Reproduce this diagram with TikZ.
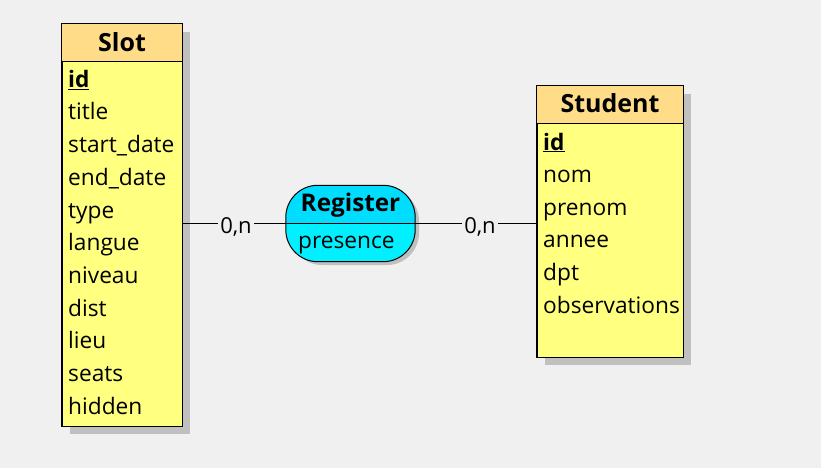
\documentclass[tikz,border=0pt]{standalone}
\usepackage{fontspec}
\setmainfont{Open Sans}
\usetikzlibrary{calc}
\definecolor{bg}{RGB}{240,240,240}
\definecolor{hdr}{RGB}{255,221,136}
\definecolor{body}{RGB}{255,255,128}
\definecolor{shd}{RGB}{192,192,192}
\definecolor{cyantop}{RGB}{0,221,255}
\definecolor{cyanbot}{RGB}{0,240,255}
\tikzset{
  box/.style={draw=black, line width=1pt, fill=body, rectangle, inner sep=0pt},
  attr/.style={anchor=base west, inner sep=0pt, font=\fontsize{22.7}{27}\selectfont},
  keyattr/.style={attr, font=\fontsize{22.7}{27}\selectfont\bfseries},
  title/.style={inner sep=0pt, anchor=base, font=\fontsize{25}{30}\selectfont\bfseries},
  card/.style={inner xsep=2pt, inner ysep=0pt, fill=bg, anchor=base, font=\fontsize{22}{26}\selectfont},
  link/.style={draw=black, line width=1pt}
}
\begin{document}
\begin{tikzpicture}[x=1pt,y=-1pt]
\fill[bg] (0,0) rectangle (821,468);
\useasboundingbox (0,0) rectangle (821,468);
% shadows
\fill[shd] (70,32) rectangle (190,434);
\fill[shd] (545,94) rectangle (691,365);
\fill[shd,rounded corners=32] (290,189) rectangle (419,265);
% Slot entity
\node[box, minimum width=120pt, minimum height=402pt] (slot) at (122,225) {};
\fill[hdr] ([xshift=0.5pt,yshift=-0.5pt]slot.north west) rectangle ($(slot.north east)+(-0.5,38)$);
\draw[line width=1pt] ($(slot.north west)+(0,38)$) -- ($(slot.north east)+(0,38)$);
\draw[line width=1pt] (slot.north west) rectangle (slot.south east);
\node[title] (slotT) at (122,52) {Slot};
\node[keyattr] (s1) at (68,87.3) {\underline{id}};
\node[attr] (s2) at (68,120) {title};
\node[attr] (s3) at (68,152.7) {start\_date};
\node[attr] (s4) at (68,185.3) {end\_date};
\node[attr] (s5) at (68,218) {type};
\node[attr] (s6) at (68,250.7) {langue};
\node[attr] (s7) at (68,283.3) {niveau};
\node[attr] (s8) at (68,316) {dist};
\node[attr] (s9) at (68,348.7) {lieu};
\node[attr] (s10) at (68,381.3) {seats};
\node[attr] (s11) at (68,414) {hidden};
% Student entity
\node[box, minimum width=146pt, minimum height=271pt] (student) at (610,221.5) {};
\fill[hdr] ([xshift=0.5pt,yshift=-0.5pt]student.north west) rectangle ($(student.north east)+(-0.5,38)$);
\draw[line width=1pt] ($(student.north west)+(0,38)$) -- ($(student.north east)+(0,38)$);
\draw[line width=1pt] (student.north west) rectangle (student.south east);
\node[title] (studentT) at (610,113) {Student};
\node[keyattr] (t1) at (543,150) {\underline{id}};
\node[attr] (t2) at (543,182.6) {nom};
\node[attr] (t3) at (543,215.2) {prenom};
\node[attr] (t4) at (543,247.8) {annee};
\node[attr] (t5) at (543,280.4) {dpt};
\node[attr] (t6) at (543,313) {observations};
% Register association
\node[inner sep=0pt, minimum width=129pt, minimum height=76pt] (register) at (350.5,223.5) {};
\begin{scope}
\clip[rounded corners=32] (register.north west) rectangle (register.south east);
\fill[cyantop] (register.north west) rectangle (register.east);
\fill[cyanbot] (register.west) rectangle (register.south east);
\end{scope}
\draw[line width=1pt] (register.west) -- (register.east);
\draw[line width=1pt, rounded corners=32] (register.north west) rectangle (register.south east);
\node[title, font=\fontsize{24.3}{29}\selectfont\bfseries] (registerT) at (350.5,211) {Register};
\node[attr] (r1) at (298,248) {presence};
% links
\draw[link] (register.west) -- (register.west -| slot.east);
\draw[link] (register.east) -- (register.east -| student.west);
\node[card] (c1) at (236,233) {0,n};
\node[card] (c2) at (480,233) {0,n};
\end{tikzpicture}
\end{document}
